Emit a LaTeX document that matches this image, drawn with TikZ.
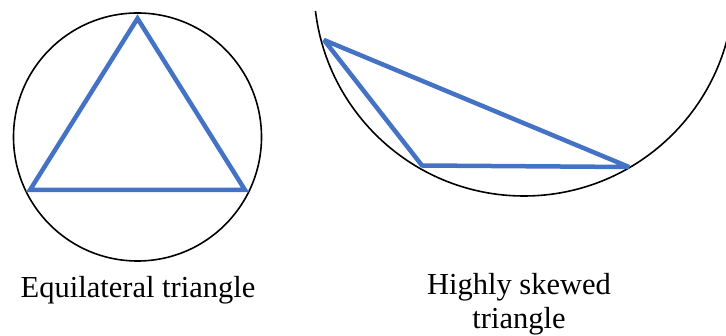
\documentclass[tikz,border=0pt]{standalone}
\usepackage{fontspec}
\setmainfont{Liberation Serif}
\newfontfamily\timesfont{Liberation Serif}
\definecolor{triblue}{HTML}{4472C4}
\tikzset{
  circ/.style={draw=black, line width=1.6pt},
  tri/.style={draw=triblue, line width=4.5pt},
  lab/.style={font=\timesfont\fontsize{30.5}{31}\selectfont, inner sep=0pt, align=center}
}
\begin{document}
\begin{tikzpicture}[x=1pt,y=-1pt]
\useasboundingbox (0,0) rectangle (726,336);
% left
\node[circle, circ, minimum size=248pt, inner sep=0pt] (lc) at (137.5,137) {};
\coordinate (t1) at (137.5,18.5);
\coordinate (t2) at (30,190);
\coordinate (t3) at (245,190);
\draw[tri, line join=miter] (t1) -- (t2) -- (t3) -- cycle;
\node[lab, anchor=base] (l1) at (138,298) {Equilateral triangle};
% right
\begin{scope}
\clip (300,12) rectangle (726,336);
\node[circle, circ, minimum size=420pt, inner sep=0pt] (rc) at (524,-14) {};
\end{scope}
\coordinate (s1) at (324,40);
\coordinate (s2) at (422,165.5);
\coordinate (s3) at (629,167);
\draw[tri, line join=bevel] (s1) -- (s2) -- (s3) -- cycle;
\node[lab, anchor=base] (l2) at (519,295) {Highly skewed};
\node[lab, anchor=base] (l3) at (519,329) {triangle};
\end{tikzpicture}
\end{document}
